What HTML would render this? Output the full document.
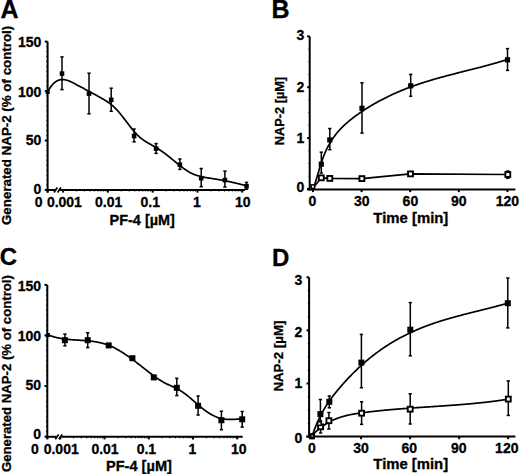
<!DOCTYPE html>
<html><head><meta charset="utf-8"><style>
html,body{margin:0;padding:0;background:#fff;width:520px;height:474px;overflow:hidden}
svg{display:block}
text{font-family:"Liberation Sans",sans-serif;font-weight:bold;fill:#000;stroke:#000;stroke-width:0.3px}
</style></head><body>
<svg width="520" height="474" viewBox="0 0 520 474" font-family="Liberation Sans" font-weight="bold">
<rect width="520" height="474" fill="#fff"/>
<line x1="47.60" y1="41.60" x2="47.60" y2="192.50" stroke="#000" stroke-width="2.0"/>
<line x1="44.80" y1="190.00" x2="47.60" y2="190.00" stroke="#000" stroke-width="2.0"/>
<line x1="44.80" y1="140.53" x2="47.60" y2="140.53" stroke="#000" stroke-width="2.0"/>
<line x1="44.80" y1="91.07" x2="47.60" y2="91.07" stroke="#000" stroke-width="2.0"/>
<line x1="44.80" y1="41.61" x2="47.60" y2="41.61" stroke="#000" stroke-width="2.0"/>
<line x1="46.30" y1="185.05" x2="47.60" y2="185.05" stroke="#000" stroke-width="1.0"/>
<line x1="46.30" y1="180.11" x2="47.60" y2="180.11" stroke="#000" stroke-width="1.0"/>
<line x1="46.30" y1="175.16" x2="47.60" y2="175.16" stroke="#000" stroke-width="1.0"/>
<line x1="46.30" y1="170.21" x2="47.60" y2="170.21" stroke="#000" stroke-width="1.0"/>
<line x1="46.30" y1="165.27" x2="47.60" y2="165.27" stroke="#000" stroke-width="1.0"/>
<line x1="46.30" y1="160.32" x2="47.60" y2="160.32" stroke="#000" stroke-width="1.0"/>
<line x1="46.30" y1="155.37" x2="47.60" y2="155.37" stroke="#000" stroke-width="1.0"/>
<line x1="46.30" y1="150.43" x2="47.60" y2="150.43" stroke="#000" stroke-width="1.0"/>
<line x1="46.30" y1="145.48" x2="47.60" y2="145.48" stroke="#000" stroke-width="1.0"/>
<line x1="46.30" y1="135.59" x2="47.60" y2="135.59" stroke="#000" stroke-width="1.0"/>
<line x1="46.30" y1="130.64" x2="47.60" y2="130.64" stroke="#000" stroke-width="1.0"/>
<line x1="46.30" y1="125.70" x2="47.60" y2="125.70" stroke="#000" stroke-width="1.0"/>
<line x1="46.30" y1="120.75" x2="47.60" y2="120.75" stroke="#000" stroke-width="1.0"/>
<line x1="46.30" y1="115.80" x2="47.60" y2="115.80" stroke="#000" stroke-width="1.0"/>
<line x1="46.30" y1="110.86" x2="47.60" y2="110.86" stroke="#000" stroke-width="1.0"/>
<line x1="46.30" y1="105.91" x2="47.60" y2="105.91" stroke="#000" stroke-width="1.0"/>
<line x1="46.30" y1="100.96" x2="47.60" y2="100.96" stroke="#000" stroke-width="1.0"/>
<line x1="46.30" y1="96.02" x2="47.60" y2="96.02" stroke="#000" stroke-width="1.0"/>
<line x1="46.30" y1="86.12" x2="47.60" y2="86.12" stroke="#000" stroke-width="1.0"/>
<line x1="46.30" y1="81.18" x2="47.60" y2="81.18" stroke="#000" stroke-width="1.0"/>
<line x1="46.30" y1="76.23" x2="47.60" y2="76.23" stroke="#000" stroke-width="1.0"/>
<line x1="46.30" y1="71.28" x2="47.60" y2="71.28" stroke="#000" stroke-width="1.0"/>
<line x1="46.30" y1="66.34" x2="47.60" y2="66.34" stroke="#000" stroke-width="1.0"/>
<line x1="46.30" y1="61.39" x2="47.60" y2="61.39" stroke="#000" stroke-width="1.0"/>
<line x1="46.30" y1="56.44" x2="47.60" y2="56.44" stroke="#000" stroke-width="1.0"/>
<line x1="46.30" y1="51.50" x2="47.60" y2="51.50" stroke="#000" stroke-width="1.0"/>
<line x1="46.30" y1="46.55" x2="47.60" y2="46.55" stroke="#000" stroke-width="1.0"/>
<line x1="47.60" y1="190.00" x2="55.00" y2="190.00" stroke="#000" stroke-width="2.0"/>
<line x1="60.00" y1="190.00" x2="245.00" y2="190.00" stroke="#000" stroke-width="2.0"/>
<line x1="54.00" y1="192.40" x2="57.30" y2="187.60" stroke="#000" stroke-width="1.8"/>
<line x1="57.60" y1="192.40" x2="60.90" y2="187.60" stroke="#000" stroke-width="1.8"/>
<line x1="63.10" y1="190.00" x2="63.10" y2="192.60" stroke="#000" stroke-width="2.0"/>
<line x1="76.59" y1="190.00" x2="76.59" y2="191.50" stroke="#000" stroke-width="1.0"/>
<line x1="84.48" y1="190.00" x2="84.48" y2="191.50" stroke="#000" stroke-width="1.0"/>
<line x1="90.07" y1="190.00" x2="90.07" y2="191.50" stroke="#000" stroke-width="1.0"/>
<line x1="94.41" y1="190.00" x2="94.41" y2="191.50" stroke="#000" stroke-width="1.0"/>
<line x1="97.96" y1="190.00" x2="97.96" y2="191.50" stroke="#000" stroke-width="1.0"/>
<line x1="100.96" y1="190.00" x2="100.96" y2="191.50" stroke="#000" stroke-width="1.0"/>
<line x1="103.56" y1="190.00" x2="103.56" y2="191.50" stroke="#000" stroke-width="1.0"/>
<line x1="105.85" y1="190.00" x2="105.85" y2="191.50" stroke="#000" stroke-width="1.0"/>
<line x1="107.90" y1="190.00" x2="107.90" y2="192.60" stroke="#000" stroke-width="2.0"/>
<line x1="121.39" y1="190.00" x2="121.39" y2="191.50" stroke="#000" stroke-width="1.0"/>
<line x1="129.28" y1="190.00" x2="129.28" y2="191.50" stroke="#000" stroke-width="1.0"/>
<line x1="134.87" y1="190.00" x2="134.87" y2="191.50" stroke="#000" stroke-width="1.0"/>
<line x1="139.21" y1="190.00" x2="139.21" y2="191.50" stroke="#000" stroke-width="1.0"/>
<line x1="142.76" y1="190.00" x2="142.76" y2="191.50" stroke="#000" stroke-width="1.0"/>
<line x1="145.76" y1="190.00" x2="145.76" y2="191.50" stroke="#000" stroke-width="1.0"/>
<line x1="148.36" y1="190.00" x2="148.36" y2="191.50" stroke="#000" stroke-width="1.0"/>
<line x1="150.65" y1="190.00" x2="150.65" y2="191.50" stroke="#000" stroke-width="1.0"/>
<line x1="152.70" y1="190.00" x2="152.70" y2="192.60" stroke="#000" stroke-width="2.0"/>
<line x1="166.19" y1="190.00" x2="166.19" y2="191.50" stroke="#000" stroke-width="1.0"/>
<line x1="174.08" y1="190.00" x2="174.08" y2="191.50" stroke="#000" stroke-width="1.0"/>
<line x1="179.67" y1="190.00" x2="179.67" y2="191.50" stroke="#000" stroke-width="1.0"/>
<line x1="184.01" y1="190.00" x2="184.01" y2="191.50" stroke="#000" stroke-width="1.0"/>
<line x1="187.56" y1="190.00" x2="187.56" y2="191.50" stroke="#000" stroke-width="1.0"/>
<line x1="190.56" y1="190.00" x2="190.56" y2="191.50" stroke="#000" stroke-width="1.0"/>
<line x1="193.16" y1="190.00" x2="193.16" y2="191.50" stroke="#000" stroke-width="1.0"/>
<line x1="195.45" y1="190.00" x2="195.45" y2="191.50" stroke="#000" stroke-width="1.0"/>
<line x1="197.50" y1="190.00" x2="197.50" y2="192.60" stroke="#000" stroke-width="2.0"/>
<line x1="210.99" y1="190.00" x2="210.99" y2="191.50" stroke="#000" stroke-width="1.0"/>
<line x1="218.88" y1="190.00" x2="218.88" y2="191.50" stroke="#000" stroke-width="1.0"/>
<line x1="224.47" y1="190.00" x2="224.47" y2="191.50" stroke="#000" stroke-width="1.0"/>
<line x1="228.81" y1="190.00" x2="228.81" y2="191.50" stroke="#000" stroke-width="1.0"/>
<line x1="232.36" y1="190.00" x2="232.36" y2="191.50" stroke="#000" stroke-width="1.0"/>
<line x1="235.36" y1="190.00" x2="235.36" y2="191.50" stroke="#000" stroke-width="1.0"/>
<line x1="237.96" y1="190.00" x2="237.96" y2="191.50" stroke="#000" stroke-width="1.0"/>
<line x1="240.25" y1="190.00" x2="240.25" y2="191.50" stroke="#000" stroke-width="1.0"/>
<line x1="242.30" y1="190.00" x2="242.30" y2="192.60" stroke="#000" stroke-width="2.0"/>
<line x1="47.60" y1="190.00" x2="47.60" y2="192.60" stroke="#000" stroke-width="2.0"/>
<text x="0.40" y="17.60" font-size="25" text-anchor="start" >A</text>
<text x="41.40" y="46.65" font-size="14" text-anchor="end" >150</text>
<text x="41.40" y="96.60" font-size="14" text-anchor="end" >100</text>
<text x="41.40" y="145.10" font-size="14" text-anchor="end" >50</text>
<text x="41.40" y="194.20" font-size="14" text-anchor="end" >0</text>
<text x="38.70" y="207.20" font-size="14" text-anchor="middle" >0</text>
<text x="64.40" y="207.20" font-size="14" text-anchor="middle" >0.001</text>
<text x="108.70" y="207.20" font-size="14" text-anchor="middle" >0.01</text>
<text x="150.20" y="207.20" font-size="14" text-anchor="middle" >0.1</text>
<text x="196.90" y="207.20" font-size="14" text-anchor="middle" >1</text>
<text x="242.70" y="207.20" font-size="14" text-anchor="middle" >10</text>
<text x="109.63" y="224.60" font-size="14" textLength="65.19" lengthAdjust="spacingAndGlyphs">PF-4 [µM]</text>
<text transform="translate(11.00,225.05) rotate(-90)" x="0" y="0" font-size="13.5" textLength="199.33" lengthAdjust="spacingAndGlyphs">Generated NAP-2 (% of control)</text>
<path d="M47.90,91.46 L48.40,90.55 L48.90,89.68 L49.40,88.86 L49.90,88.08 L50.40,87.34 L50.90,86.63 L51.40,85.97 L51.90,85.34 L52.40,84.75 L52.90,84.20 L53.40,83.68 L53.90,83.20 L54.40,82.75 L54.90,82.33 L55.40,81.95 L55.90,81.60 L56.40,81.27 L56.90,80.98 L57.40,80.72 L57.90,80.48 L58.40,80.28 L58.90,80.10 L59.40,79.94 L59.90,79.82 L60.40,79.71 L60.90,79.63 L61.40,79.57 L61.90,79.54 L62.40,79.52 L62.90,79.53 L63.40,79.56 L63.90,79.60 L64.40,79.67 L64.90,79.75 L65.40,79.85 L65.90,79.96 L66.40,80.09 L66.90,80.23 L67.40,80.39 L67.90,80.56 L68.40,80.74 L68.90,80.93 L69.40,81.14 L69.90,81.35 L70.40,81.57 L70.90,81.80 L71.40,82.04 L71.90,82.28 L72.40,82.53 L72.90,82.78 L73.40,83.04 L73.90,83.30 L74.40,83.57 L74.90,83.83 L75.40,84.10 L75.90,84.37 L76.40,84.64 L76.90,84.90 L77.40,85.17 L77.90,85.44 L78.40,85.70 L78.90,85.97 L79.40,86.23 L79.90,86.50 L80.40,86.77 L80.90,87.03 L81.40,87.30 L81.90,87.56 L82.40,87.83 L82.90,88.09 L83.40,88.36 L83.90,88.62 L84.40,88.89 L84.90,89.15 L85.40,89.42 L85.90,89.68 L86.40,89.95 L86.90,90.22 L87.40,90.48 L87.90,90.75 L88.40,91.02 L88.90,91.28 L89.40,91.55 L89.90,91.82 L90.40,92.09 L90.90,92.36 L91.40,92.62 L91.90,92.89 L92.40,93.16 L92.90,93.43 L93.40,93.71 L93.90,93.98 L94.40,94.25 L94.90,94.52 L95.40,94.80 L95.90,95.07 L96.40,95.35 L96.90,95.62 L97.40,95.90 L97.90,96.18 L98.40,96.46 L98.90,96.73 L99.40,97.01 L99.90,97.30 L100.40,97.58 L100.90,97.86 L101.40,98.14 L101.90,98.43 L102.40,98.72 L102.90,99.01 L103.40,99.30 L103.90,99.59 L104.40,99.89 L104.90,100.19 L105.40,100.50 L105.90,100.81 L106.40,101.13 L106.90,101.46 L107.40,101.79 L107.90,102.12 L108.40,102.47 L108.90,102.82 L109.40,103.18 L109.90,103.55 L110.40,103.93 L110.90,104.32 L111.40,104.71 L111.90,105.12 L112.40,105.54 L112.90,105.97 L113.40,106.42 L113.90,106.87 L114.40,107.34 L114.90,107.82 L115.40,108.32 L115.90,108.82 L116.40,109.35 L116.90,109.88 L117.40,110.43 L117.90,110.99 L118.40,111.56 L118.90,112.14 L119.40,112.73 L119.90,113.33 L120.40,113.94 L120.90,114.55 L121.40,115.17 L121.90,115.80 L122.40,116.44 L122.90,117.08 L123.40,117.72 L123.90,118.37 L124.40,119.02 L124.90,119.67 L125.40,120.33 L125.90,120.99 L126.40,121.65 L126.90,122.30 L127.40,122.96 L127.90,123.62 L128.40,124.27 L128.90,124.92 L129.40,125.57 L129.90,126.22 L130.40,126.85 L130.90,127.49 L131.40,128.12 L131.90,128.74 L132.40,129.36 L132.90,129.96 L133.40,130.56 L133.90,131.15 L134.40,131.74 L134.90,132.31 L135.40,132.87 L135.90,133.41 L136.40,133.95 L136.90,134.47 L137.40,134.98 L137.90,135.48 L138.40,135.96 L138.90,136.42 L139.40,136.87 L139.90,137.31 L140.40,137.74 L140.90,138.15 L141.40,138.55 L141.90,138.93 L142.40,139.31 L142.90,139.68 L143.40,140.03 L143.90,140.38 L144.40,140.72 L144.90,141.05 L145.40,141.37 L145.90,141.69 L146.40,142.00 L146.90,142.30 L147.40,142.60 L147.90,142.89 L148.40,143.18 L148.90,143.47 L149.40,143.75 L149.90,144.03 L150.40,144.31 L150.90,144.59 L151.40,144.87 L151.90,145.14 L152.40,145.42 L152.90,145.70 L153.40,145.98 L153.90,146.26 L154.40,146.55 L154.90,146.83 L155.40,147.12 L155.90,147.42 L156.40,147.72 L156.90,148.03 L157.40,148.34 L157.90,148.65 L158.40,148.97 L158.90,149.30 L159.40,149.63 L159.90,149.96 L160.40,150.30 L160.90,150.64 L161.40,150.99 L161.90,151.34 L162.40,151.69 L162.90,152.05 L163.40,152.41 L163.90,152.77 L164.40,153.14 L164.90,153.52 L165.40,153.89 L165.90,154.27 L166.40,154.65 L166.90,155.04 L167.40,155.43 L167.90,155.82 L168.40,156.22 L168.90,156.61 L169.40,157.01 L169.90,157.42 L170.40,157.82 L170.90,158.23 L171.40,158.64 L171.90,159.05 L172.40,159.46 L172.90,159.87 L173.40,160.28 L173.90,160.70 L174.40,161.11 L174.90,161.52 L175.40,161.93 L175.90,162.35 L176.40,162.76 L176.90,163.17 L177.40,163.57 L177.90,163.98 L178.40,164.38 L178.90,164.78 L179.40,165.18 L179.90,165.57 L180.40,165.97 L180.90,166.36 L181.40,166.74 L181.90,167.12 L182.40,167.50 L182.90,167.87 L183.40,168.24 L183.90,168.60 L184.40,168.95 L184.90,169.30 L185.40,169.65 L185.90,169.99 L186.40,170.32 L186.90,170.64 L187.40,170.96 L187.90,171.27 L188.40,171.58 L188.90,171.87 L189.40,172.16 L189.90,172.44 L190.40,172.71 L190.90,172.97 L191.40,173.23 L191.90,173.47 L192.40,173.70 L192.90,173.93 L193.40,174.15 L193.90,174.36 L194.40,174.56 L194.90,174.75 L195.40,174.94 L195.90,175.12 L196.40,175.29 L196.90,175.45 L197.40,175.61 L197.90,175.77 L198.40,175.91 L198.90,176.05 L199.40,176.19 L199.90,176.32 L200.40,176.45 L200.90,176.57 L201.40,176.68 L201.90,176.79 L202.40,176.90 L202.90,177.00 L203.40,177.10 L203.90,177.20 L204.40,177.30 L204.90,177.39 L205.40,177.47 L205.90,177.56 L206.40,177.64 L206.90,177.73 L207.40,177.81 L207.90,177.88 L208.40,177.96 L208.90,178.04 L209.40,178.12 L209.90,178.19 L210.40,178.27 L210.90,178.34 L211.40,178.42 L211.90,178.49 L212.40,178.57 L212.90,178.65 L213.40,178.73 L213.90,178.81 L214.40,178.89 L214.90,178.97 L215.40,179.05 L215.90,179.13 L216.40,179.21 L216.90,179.30 L217.40,179.38 L217.90,179.47 L218.40,179.56 L218.90,179.64 L219.40,179.73 L219.90,179.82 L220.40,179.91 L220.90,180.00 L221.40,180.09 L221.90,180.18 L222.40,180.28 L222.90,180.37 L223.40,180.47 L223.90,180.56 L224.40,180.66 L224.90,180.76 L225.40,180.86 L225.90,180.95 L226.40,181.05 L226.90,181.16 L227.40,181.26 L227.90,181.36 L228.40,181.46 L228.90,181.57 L229.40,181.67 L229.90,181.78 L230.40,181.89 L230.90,182.00 L231.40,182.10 L231.90,182.21 L232.40,182.32 L232.90,182.44 L233.40,182.55 L233.90,182.66 L234.40,182.78 L234.90,182.89 L235.40,183.01 L235.90,183.13 L236.40,183.25 L236.90,183.36 L237.40,183.49 L237.90,183.61 L238.40,183.73 L238.90,183.85 L239.40,183.98 L239.90,184.10 L240.40,184.23 L240.90,184.35 L241.40,184.48 L241.90,184.61 L242.40,184.74 L242.90,184.87 L243.40,185.00 L243.90,185.14 L244.40,185.27 L244.90,185.41 L245.40,185.54 L245.90,185.68 L246.40,185.82 L246.50,185.85" fill="none" stroke="#000" stroke-width="1.7" stroke-linejoin="round"/>
<line x1="62.00" y1="56.90" x2="62.00" y2="89.60" stroke="#000" stroke-width="1.5"/>
<line x1="60.35" y1="56.90" x2="63.65" y2="56.90" stroke="#000" stroke-width="1.5"/>
<line x1="60.35" y1="89.60" x2="63.65" y2="89.60" stroke="#000" stroke-width="1.5"/>
<rect x="59.70" y="71.30" width="4.60" height="4.60" fill="#000"/>
<line x1="89.00" y1="73.20" x2="89.00" y2="113.80" stroke="#000" stroke-width="1.5"/>
<line x1="87.35" y1="73.20" x2="90.65" y2="73.20" stroke="#000" stroke-width="1.5"/>
<line x1="87.35" y1="113.80" x2="90.65" y2="113.80" stroke="#000" stroke-width="1.5"/>
<rect x="86.70" y="91.30" width="4.60" height="4.60" fill="#000"/>
<line x1="111.20" y1="88.20" x2="111.20" y2="111.30" stroke="#000" stroke-width="1.5"/>
<line x1="109.55" y1="88.20" x2="112.85" y2="88.20" stroke="#000" stroke-width="1.5"/>
<line x1="109.55" y1="111.30" x2="112.85" y2="111.30" stroke="#000" stroke-width="1.5"/>
<rect x="108.90" y="97.50" width="4.60" height="4.60" fill="#000"/>
<line x1="134.10" y1="129.00" x2="134.10" y2="141.90" stroke="#000" stroke-width="1.5"/>
<line x1="132.45" y1="129.00" x2="135.75" y2="129.00" stroke="#000" stroke-width="1.5"/>
<line x1="132.45" y1="141.90" x2="135.75" y2="141.90" stroke="#000" stroke-width="1.5"/>
<rect x="131.80" y="133.70" width="4.60" height="4.60" fill="#000"/>
<line x1="156.10" y1="143.60" x2="156.10" y2="153.40" stroke="#000" stroke-width="1.5"/>
<line x1="154.45" y1="143.60" x2="157.75" y2="143.60" stroke="#000" stroke-width="1.5"/>
<line x1="154.45" y1="153.40" x2="157.75" y2="153.40" stroke="#000" stroke-width="1.5"/>
<rect x="153.80" y="146.30" width="4.60" height="4.60" fill="#000"/>
<line x1="179.90" y1="159.00" x2="179.90" y2="169.40" stroke="#000" stroke-width="1.5"/>
<line x1="178.25" y1="159.00" x2="181.55" y2="159.00" stroke="#000" stroke-width="1.5"/>
<line x1="178.25" y1="169.40" x2="181.55" y2="169.40" stroke="#000" stroke-width="1.5"/>
<rect x="177.60" y="162.40" width="4.60" height="4.60" fill="#000"/>
<line x1="201.20" y1="168.50" x2="201.20" y2="186.70" stroke="#000" stroke-width="1.5"/>
<line x1="199.55" y1="168.50" x2="202.85" y2="168.50" stroke="#000" stroke-width="1.5"/>
<line x1="199.55" y1="186.70" x2="202.85" y2="186.70" stroke="#000" stroke-width="1.5"/>
<rect x="198.90" y="175.90" width="4.60" height="4.60" fill="#000"/>
<line x1="224.90" y1="171.10" x2="224.90" y2="187.00" stroke="#000" stroke-width="1.5"/>
<line x1="223.25" y1="171.10" x2="226.55" y2="171.10" stroke="#000" stroke-width="1.5"/>
<line x1="223.25" y1="187.00" x2="226.55" y2="187.00" stroke="#000" stroke-width="1.5"/>
<rect x="222.60" y="177.80" width="4.60" height="4.60" fill="#000"/>
<line x1="246.50" y1="182.40" x2="246.50" y2="189.30" stroke="#000" stroke-width="1.5"/>
<line x1="244.85" y1="182.40" x2="248.15" y2="182.40" stroke="#000" stroke-width="1.5"/>
<line x1="244.85" y1="189.30" x2="248.15" y2="189.30" stroke="#000" stroke-width="1.5"/>
<rect x="244.20" y="183.90" width="4.60" height="4.60" fill="#000"/>
<rect x="45.70" y="90.00" width="4.00" height="4.00" fill="#000"/>
<line x1="47.30" y1="284.90" x2="47.30" y2="439.00" stroke="#000" stroke-width="2.0"/>
<line x1="44.50" y1="436.60" x2="47.30" y2="436.60" stroke="#000" stroke-width="2.0"/>
<line x1="44.50" y1="386.04" x2="47.30" y2="386.04" stroke="#000" stroke-width="2.0"/>
<line x1="44.50" y1="335.47" x2="47.30" y2="335.47" stroke="#000" stroke-width="2.0"/>
<line x1="44.50" y1="284.90" x2="47.30" y2="284.90" stroke="#000" stroke-width="2.0"/>
<line x1="46.00" y1="431.54" x2="47.30" y2="431.54" stroke="#000" stroke-width="1.0"/>
<line x1="46.00" y1="426.49" x2="47.30" y2="426.49" stroke="#000" stroke-width="1.0"/>
<line x1="46.00" y1="421.43" x2="47.30" y2="421.43" stroke="#000" stroke-width="1.0"/>
<line x1="46.00" y1="416.37" x2="47.30" y2="416.37" stroke="#000" stroke-width="1.0"/>
<line x1="46.00" y1="411.32" x2="47.30" y2="411.32" stroke="#000" stroke-width="1.0"/>
<line x1="46.00" y1="406.26" x2="47.30" y2="406.26" stroke="#000" stroke-width="1.0"/>
<line x1="46.00" y1="401.20" x2="47.30" y2="401.20" stroke="#000" stroke-width="1.0"/>
<line x1="46.00" y1="396.15" x2="47.30" y2="396.15" stroke="#000" stroke-width="1.0"/>
<line x1="46.00" y1="391.09" x2="47.30" y2="391.09" stroke="#000" stroke-width="1.0"/>
<line x1="46.00" y1="380.98" x2="47.30" y2="380.98" stroke="#000" stroke-width="1.0"/>
<line x1="46.00" y1="375.92" x2="47.30" y2="375.92" stroke="#000" stroke-width="1.0"/>
<line x1="46.00" y1="370.87" x2="47.30" y2="370.87" stroke="#000" stroke-width="1.0"/>
<line x1="46.00" y1="365.81" x2="47.30" y2="365.81" stroke="#000" stroke-width="1.0"/>
<line x1="46.00" y1="360.75" x2="47.30" y2="360.75" stroke="#000" stroke-width="1.0"/>
<line x1="46.00" y1="355.70" x2="47.30" y2="355.70" stroke="#000" stroke-width="1.0"/>
<line x1="46.00" y1="350.64" x2="47.30" y2="350.64" stroke="#000" stroke-width="1.0"/>
<line x1="46.00" y1="345.58" x2="47.30" y2="345.58" stroke="#000" stroke-width="1.0"/>
<line x1="46.00" y1="340.53" x2="47.30" y2="340.53" stroke="#000" stroke-width="1.0"/>
<line x1="46.00" y1="330.41" x2="47.30" y2="330.41" stroke="#000" stroke-width="1.0"/>
<line x1="46.00" y1="325.36" x2="47.30" y2="325.36" stroke="#000" stroke-width="1.0"/>
<line x1="46.00" y1="320.30" x2="47.30" y2="320.30" stroke="#000" stroke-width="1.0"/>
<line x1="46.00" y1="315.24" x2="47.30" y2="315.24" stroke="#000" stroke-width="1.0"/>
<line x1="46.00" y1="310.19" x2="47.30" y2="310.19" stroke="#000" stroke-width="1.0"/>
<line x1="46.00" y1="305.13" x2="47.30" y2="305.13" stroke="#000" stroke-width="1.0"/>
<line x1="46.00" y1="300.07" x2="47.30" y2="300.07" stroke="#000" stroke-width="1.0"/>
<line x1="46.00" y1="295.02" x2="47.30" y2="295.02" stroke="#000" stroke-width="1.0"/>
<line x1="46.00" y1="289.96" x2="47.30" y2="289.96" stroke="#000" stroke-width="1.0"/>
<line x1="47.30" y1="436.80" x2="56.00" y2="436.80" stroke="#000" stroke-width="2.0"/>
<line x1="61.50" y1="436.80" x2="242.70" y2="436.80" stroke="#000" stroke-width="2.0"/>
<line x1="55.30" y1="439.20" x2="58.60" y2="434.40" stroke="#000" stroke-width="1.8"/>
<line x1="58.90" y1="439.20" x2="62.20" y2="434.40" stroke="#000" stroke-width="1.8"/>
<line x1="60.28" y1="436.80" x2="60.28" y2="439.40" stroke="#000" stroke-width="2.0"/>
<line x1="73.60" y1="436.80" x2="73.60" y2="438.30" stroke="#000" stroke-width="1.0"/>
<line x1="81.39" y1="436.80" x2="81.39" y2="438.30" stroke="#000" stroke-width="1.0"/>
<line x1="86.92" y1="436.80" x2="86.92" y2="438.30" stroke="#000" stroke-width="1.0"/>
<line x1="91.20" y1="436.80" x2="91.20" y2="438.30" stroke="#000" stroke-width="1.0"/>
<line x1="94.71" y1="436.80" x2="94.71" y2="438.30" stroke="#000" stroke-width="1.0"/>
<line x1="97.67" y1="436.80" x2="97.67" y2="438.30" stroke="#000" stroke-width="1.0"/>
<line x1="100.23" y1="436.80" x2="100.23" y2="438.30" stroke="#000" stroke-width="1.0"/>
<line x1="102.50" y1="436.80" x2="102.50" y2="438.30" stroke="#000" stroke-width="1.0"/>
<line x1="104.52" y1="436.80" x2="104.52" y2="439.40" stroke="#000" stroke-width="2.0"/>
<line x1="117.84" y1="436.80" x2="117.84" y2="438.30" stroke="#000" stroke-width="1.0"/>
<line x1="125.63" y1="436.80" x2="125.63" y2="438.30" stroke="#000" stroke-width="1.0"/>
<line x1="131.16" y1="436.80" x2="131.16" y2="438.30" stroke="#000" stroke-width="1.0"/>
<line x1="135.44" y1="436.80" x2="135.44" y2="438.30" stroke="#000" stroke-width="1.0"/>
<line x1="138.95" y1="436.80" x2="138.95" y2="438.30" stroke="#000" stroke-width="1.0"/>
<line x1="141.91" y1="436.80" x2="141.91" y2="438.30" stroke="#000" stroke-width="1.0"/>
<line x1="144.47" y1="436.80" x2="144.47" y2="438.30" stroke="#000" stroke-width="1.0"/>
<line x1="146.74" y1="436.80" x2="146.74" y2="438.30" stroke="#000" stroke-width="1.0"/>
<line x1="148.76" y1="436.80" x2="148.76" y2="439.40" stroke="#000" stroke-width="2.0"/>
<line x1="162.08" y1="436.80" x2="162.08" y2="438.30" stroke="#000" stroke-width="1.0"/>
<line x1="169.87" y1="436.80" x2="169.87" y2="438.30" stroke="#000" stroke-width="1.0"/>
<line x1="175.40" y1="436.80" x2="175.40" y2="438.30" stroke="#000" stroke-width="1.0"/>
<line x1="179.68" y1="436.80" x2="179.68" y2="438.30" stroke="#000" stroke-width="1.0"/>
<line x1="183.19" y1="436.80" x2="183.19" y2="438.30" stroke="#000" stroke-width="1.0"/>
<line x1="186.15" y1="436.80" x2="186.15" y2="438.30" stroke="#000" stroke-width="1.0"/>
<line x1="188.71" y1="436.80" x2="188.71" y2="438.30" stroke="#000" stroke-width="1.0"/>
<line x1="190.98" y1="436.80" x2="190.98" y2="438.30" stroke="#000" stroke-width="1.0"/>
<line x1="193.00" y1="436.80" x2="193.00" y2="439.40" stroke="#000" stroke-width="2.0"/>
<line x1="206.32" y1="436.80" x2="206.32" y2="438.30" stroke="#000" stroke-width="1.0"/>
<line x1="214.11" y1="436.80" x2="214.11" y2="438.30" stroke="#000" stroke-width="1.0"/>
<line x1="219.64" y1="436.80" x2="219.64" y2="438.30" stroke="#000" stroke-width="1.0"/>
<line x1="223.92" y1="436.80" x2="223.92" y2="438.30" stroke="#000" stroke-width="1.0"/>
<line x1="227.43" y1="436.80" x2="227.43" y2="438.30" stroke="#000" stroke-width="1.0"/>
<line x1="230.39" y1="436.80" x2="230.39" y2="438.30" stroke="#000" stroke-width="1.0"/>
<line x1="232.95" y1="436.80" x2="232.95" y2="438.30" stroke="#000" stroke-width="1.0"/>
<line x1="235.22" y1="436.80" x2="235.22" y2="438.30" stroke="#000" stroke-width="1.0"/>
<line x1="237.24" y1="436.80" x2="237.24" y2="439.40" stroke="#000" stroke-width="2.0"/>
<line x1="47.30" y1="436.80" x2="47.30" y2="439.40" stroke="#000" stroke-width="2.0"/>
<text x="-0.20" y="265.40" font-size="24" text-anchor="start" >C</text>
<text x="41.00" y="291.40" font-size="14" text-anchor="end" >150</text>
<text x="41.00" y="341.40" font-size="14" text-anchor="end" >100</text>
<text x="41.00" y="390.30" font-size="14" text-anchor="end" >50</text>
<text x="41.00" y="439.40" font-size="14" text-anchor="end" >0</text>
<text x="34.90" y="453.60" font-size="14" text-anchor="middle" >0</text>
<text x="61.20" y="453.60" font-size="14" text-anchor="middle" >0.001</text>
<text x="105.00" y="453.60" font-size="14" text-anchor="middle" >0.01</text>
<text x="146.40" y="453.60" font-size="14" text-anchor="middle" >0.1</text>
<text x="192.40" y="453.60" font-size="14" text-anchor="middle" >1</text>
<text x="238.70" y="453.60" font-size="14" text-anchor="middle" >10</text>
<text x="105.92" y="470.50" font-size="14" textLength="66.01" lengthAdjust="spacingAndGlyphs">PF-4 [µM]</text>
<text transform="translate(10.60,472.04) rotate(-90)" x="0" y="0" font-size="13.5" textLength="196.91" lengthAdjust="spacingAndGlyphs">Generated NAP-2 (% of control)</text>
<path d="M48.30,334.97 L48.80,335.16 L49.30,335.35 L49.80,335.54 L50.30,335.72 L50.80,335.89 L51.30,336.06 L51.80,336.22 L52.30,336.38 L52.80,336.53 L53.30,336.68 L53.80,336.83 L54.30,336.97 L54.80,337.10 L55.30,337.23 L55.80,337.36 L56.30,337.48 L56.80,337.60 L57.30,337.72 L57.80,337.83 L58.30,337.94 L58.80,338.04 L59.30,338.14 L59.80,338.24 L60.30,338.33 L60.80,338.42 L61.30,338.50 L61.80,338.59 L62.30,338.67 L62.80,338.75 L63.30,338.82 L63.80,338.89 L64.30,338.96 L64.80,339.03 L65.30,339.09 L65.80,339.15 L66.30,339.21 L66.80,339.27 L67.30,339.32 L67.80,339.37 L68.30,339.42 L68.80,339.47 L69.30,339.52 L69.80,339.57 L70.30,339.61 L70.80,339.65 L71.30,339.69 L71.80,339.73 L72.30,339.77 L72.80,339.81 L73.30,339.84 L73.80,339.88 L74.30,339.91 L74.80,339.94 L75.30,339.98 L75.80,340.01 L76.30,340.04 L76.80,340.07 L77.30,340.10 L77.80,340.13 L78.30,340.16 L78.80,340.19 L79.30,340.22 L79.80,340.25 L80.30,340.29 L80.80,340.32 L81.30,340.35 L81.80,340.38 L82.30,340.41 L82.80,340.45 L83.30,340.48 L83.80,340.51 L84.30,340.55 L84.80,340.59 L85.30,340.62 L85.80,340.66 L86.30,340.70 L86.80,340.75 L87.30,340.79 L87.80,340.83 L88.30,340.88 L88.80,340.93 L89.30,340.98 L89.80,341.03 L90.30,341.09 L90.80,341.14 L91.30,341.20 L91.80,341.26 L92.30,341.32 L92.80,341.39 L93.30,341.46 L93.80,341.53 L94.30,341.60 L94.80,341.68 L95.30,341.76 L95.80,341.84 L96.30,341.93 L96.80,342.02 L97.30,342.11 L97.80,342.21 L98.30,342.30 L98.80,342.41 L99.30,342.51 L99.80,342.62 L100.30,342.74 L100.80,342.86 L101.30,342.98 L101.80,343.11 L102.30,343.24 L102.80,343.37 L103.30,343.51 L103.80,343.65 L104.30,343.80 L104.80,343.96 L105.30,344.11 L105.80,344.28 L106.30,344.44 L106.80,344.62 L107.30,344.79 L107.80,344.98 L108.30,345.17 L108.80,345.36 L109.30,345.56 L109.80,345.76 L110.30,345.97 L110.80,346.19 L111.30,346.41 L111.80,346.63 L112.30,346.86 L112.80,347.10 L113.30,347.34 L113.80,347.58 L114.30,347.83 L114.80,348.09 L115.30,348.35 L115.80,348.61 L116.30,348.88 L116.80,349.15 L117.30,349.42 L117.80,349.70 L118.30,349.99 L118.80,350.28 L119.30,350.57 L119.80,350.87 L120.30,351.17 L120.80,351.47 L121.30,351.78 L121.80,352.09 L122.30,352.40 L122.80,352.72 L123.30,353.04 L123.80,353.36 L124.30,353.69 L124.80,354.02 L125.30,354.36 L125.80,354.69 L126.30,355.03 L126.80,355.38 L127.30,355.72 L127.80,356.07 L128.30,356.42 L128.80,356.77 L129.30,357.13 L129.80,357.48 L130.30,357.84 L130.80,358.21 L131.30,358.57 L131.80,358.94 L132.30,359.31 L132.80,359.68 L133.30,360.05 L133.80,360.42 L134.30,360.80 L134.80,361.18 L135.30,361.56 L135.80,361.94 L136.30,362.32 L136.80,362.70 L137.30,363.08 L137.80,363.47 L138.30,363.86 L138.80,364.24 L139.30,364.63 L139.80,365.02 L140.30,365.41 L140.80,365.80 L141.30,366.20 L141.80,366.59 L142.30,366.98 L142.80,367.37 L143.30,367.77 L143.80,368.16 L144.30,368.56 L144.80,368.95 L145.30,369.34 L145.80,369.74 L146.30,370.13 L146.80,370.52 L147.30,370.92 L147.80,371.31 L148.30,371.70 L148.80,372.08 L149.30,372.47 L149.80,372.86 L150.30,373.24 L150.80,373.62 L151.30,374.00 L151.80,374.38 L152.30,374.76 L152.80,375.13 L153.30,375.50 L153.80,375.87 L154.30,376.23 L154.80,376.59 L155.30,376.95 L155.80,377.31 L156.30,377.66 L156.80,378.01 L157.30,378.35 L157.80,378.69 L158.30,379.02 L158.80,379.35 L159.30,379.68 L159.80,380.00 L160.30,380.32 L160.80,380.63 L161.30,380.94 L161.80,381.24 L162.30,381.53 L162.80,381.82 L163.30,382.11 L163.80,382.38 L164.30,382.66 L164.80,382.92 L165.30,383.18 L165.80,383.43 L166.30,383.68 L166.80,383.92 L167.30,384.16 L167.80,384.39 L168.30,384.62 L168.80,384.85 L169.30,385.08 L169.80,385.30 L170.30,385.52 L170.80,385.75 L171.30,385.97 L171.80,386.19 L172.30,386.42 L172.80,386.64 L173.30,386.87 L173.80,387.10 L174.30,387.34 L174.80,387.58 L175.30,387.82 L175.80,388.07 L176.30,388.32 L176.80,388.58 L177.30,388.85 L177.80,389.12 L178.30,389.41 L178.80,389.69 L179.30,389.99 L179.80,390.29 L180.30,390.60 L180.80,390.91 L181.30,391.23 L181.80,391.56 L182.30,391.89 L182.80,392.23 L183.30,392.58 L183.80,392.93 L184.30,393.29 L184.80,393.65 L185.30,394.03 L185.80,394.40 L186.30,394.79 L186.80,395.17 L187.30,395.57 L187.80,395.97 L188.30,396.38 L188.80,396.79 L189.30,397.21 L189.80,397.63 L190.30,398.05 L190.80,398.48 L191.30,398.91 L191.80,399.35 L192.30,399.78 L192.80,400.22 L193.30,400.66 L193.80,401.10 L194.30,401.54 L194.80,401.98 L195.30,402.42 L195.80,402.86 L196.30,403.30 L196.80,403.74 L197.30,404.17 L197.80,404.60 L198.30,405.03 L198.80,405.45 L199.30,405.88 L199.80,406.29 L200.30,406.71 L200.80,407.12 L201.30,407.52 L201.80,407.92 L202.30,408.32 L202.80,408.71 L203.30,409.10 L203.80,409.48 L204.30,409.86 L204.80,410.23 L205.30,410.59 L205.80,410.95 L206.30,411.31 L206.80,411.66 L207.30,412.00 L207.80,412.34 L208.30,412.67 L208.80,412.99 L209.30,413.31 L209.80,413.62 L210.30,413.92 L210.80,414.22 L211.30,414.51 L211.80,414.79 L212.30,415.07 L212.80,415.33 L213.30,415.59 L213.80,415.84 L214.30,416.08 L214.80,416.32 L215.30,416.54 L215.80,416.76 L216.30,416.97 L216.80,417.17 L217.30,417.36 L217.80,417.54 L218.30,417.71 L218.80,417.87 L219.30,418.03 L219.80,418.17 L220.30,418.30 L220.80,418.43 L221.30,418.55 L221.80,418.65 L222.30,418.75 L222.80,418.84 L223.30,418.93 L223.80,419.01 L224.30,419.07 L224.80,419.14 L225.30,419.19 L225.80,419.24 L226.30,419.29 L226.80,419.32 L227.30,419.35 L227.80,419.38 L228.30,419.40 L228.80,419.42 L229.30,419.43 L229.80,419.43 L230.30,419.44 L230.80,419.43 L231.30,419.43 L231.80,419.42 L232.30,419.41 L232.80,419.39 L233.30,419.37 L233.80,419.35 L234.30,419.33 L234.80,419.31 L235.30,419.28 L235.80,419.25 L236.30,419.22 L236.80,419.19 L237.30,419.16 L237.80,419.13 L238.30,419.10 L238.80,419.07 L239.30,419.04 L239.80,419.00 L240.30,418.97 L240.80,418.94 L241.30,418.92 L241.80,418.89 L242.20,418.87" fill="none" stroke="#000" stroke-width="1.7" stroke-linejoin="round"/>
<line x1="64.90" y1="334.10" x2="64.90" y2="345.80" stroke="#000" stroke-width="1.5"/>
<line x1="63.25" y1="334.10" x2="66.55" y2="334.10" stroke="#000" stroke-width="1.5"/>
<line x1="63.25" y1="345.80" x2="66.55" y2="345.80" stroke="#000" stroke-width="1.5"/>
<rect x="61.90" y="337.20" width="6.00" height="6.00" fill="#000"/>
<line x1="87.70" y1="332.80" x2="87.70" y2="347.60" stroke="#000" stroke-width="1.5"/>
<line x1="86.05" y1="332.80" x2="89.35" y2="332.80" stroke="#000" stroke-width="1.5"/>
<line x1="86.05" y1="347.60" x2="89.35" y2="347.60" stroke="#000" stroke-width="1.5"/>
<rect x="84.70" y="337.20" width="6.00" height="6.00" fill="#000"/>
<rect x="105.70" y="342.40" width="6.00" height="6.00" fill="#000"/>
<rect x="129.40" y="355.20" width="6.00" height="6.00" fill="#000"/>
<rect x="150.80" y="374.40" width="6.00" height="6.00" fill="#000"/>
<line x1="176.80" y1="378.30" x2="176.80" y2="395.60" stroke="#000" stroke-width="1.5"/>
<line x1="175.15" y1="378.30" x2="178.45" y2="378.30" stroke="#000" stroke-width="1.5"/>
<line x1="175.15" y1="395.60" x2="178.45" y2="395.60" stroke="#000" stroke-width="1.5"/>
<rect x="173.80" y="384.80" width="6.00" height="6.00" fill="#000"/>
<line x1="198.10" y1="396.00" x2="198.10" y2="415.00" stroke="#000" stroke-width="1.5"/>
<line x1="196.45" y1="396.00" x2="199.75" y2="396.00" stroke="#000" stroke-width="1.5"/>
<line x1="196.45" y1="415.00" x2="199.75" y2="415.00" stroke="#000" stroke-width="1.5"/>
<rect x="195.10" y="402.80" width="6.00" height="6.00" fill="#000"/>
<line x1="221.40" y1="411.20" x2="221.40" y2="429.70" stroke="#000" stroke-width="1.5"/>
<line x1="219.75" y1="411.20" x2="223.05" y2="411.20" stroke="#000" stroke-width="1.5"/>
<line x1="219.75" y1="429.70" x2="223.05" y2="429.70" stroke="#000" stroke-width="1.5"/>
<rect x="218.40" y="417.20" width="6.00" height="6.00" fill="#000"/>
<line x1="242.20" y1="411.50" x2="242.20" y2="427.10" stroke="#000" stroke-width="1.5"/>
<line x1="240.55" y1="411.50" x2="243.85" y2="411.50" stroke="#000" stroke-width="1.5"/>
<line x1="240.55" y1="427.10" x2="243.85" y2="427.10" stroke="#000" stroke-width="1.5"/>
<rect x="239.20" y="416.30" width="6.00" height="6.00" fill="#000"/>
<rect x="46.00" y="333.10" width="4.00" height="4.00" fill="#000"/>
<line x1="309.70" y1="36.40" x2="309.70" y2="190.50" stroke="#000" stroke-width="2.0"/>
<line x1="307.10" y1="188.90" x2="309.70" y2="188.90" stroke="#000" stroke-width="2.0"/>
<line x1="307.10" y1="138.05" x2="309.70" y2="138.05" stroke="#000" stroke-width="2.0"/>
<line x1="307.10" y1="87.20" x2="309.70" y2="87.20" stroke="#000" stroke-width="2.0"/>
<line x1="307.10" y1="36.35" x2="309.70" y2="36.35" stroke="#000" stroke-width="2.0"/>
<line x1="308.40" y1="176.19" x2="309.70" y2="176.19" stroke="#000" stroke-width="1.0"/>
<line x1="308.40" y1="163.47" x2="309.70" y2="163.47" stroke="#000" stroke-width="1.0"/>
<line x1="308.40" y1="150.76" x2="309.70" y2="150.76" stroke="#000" stroke-width="1.0"/>
<line x1="308.40" y1="125.34" x2="309.70" y2="125.34" stroke="#000" stroke-width="1.0"/>
<line x1="308.40" y1="112.62" x2="309.70" y2="112.62" stroke="#000" stroke-width="1.0"/>
<line x1="308.40" y1="99.91" x2="309.70" y2="99.91" stroke="#000" stroke-width="1.0"/>
<line x1="308.40" y1="74.49" x2="309.70" y2="74.49" stroke="#000" stroke-width="1.0"/>
<line x1="308.40" y1="61.78" x2="309.70" y2="61.78" stroke="#000" stroke-width="1.0"/>
<line x1="308.40" y1="49.06" x2="309.70" y2="49.06" stroke="#000" stroke-width="1.0"/>
<line x1="307.20" y1="189.50" x2="515.40" y2="189.50" stroke="#000" stroke-width="2.0"/>
<line x1="312.96" y1="189.50" x2="312.96" y2="192.10" stroke="#000" stroke-width="2.0"/>
<line x1="361.58" y1="189.50" x2="361.58" y2="192.10" stroke="#000" stroke-width="2.0"/>
<line x1="410.20" y1="189.50" x2="410.20" y2="192.10" stroke="#000" stroke-width="2.0"/>
<line x1="458.82" y1="189.50" x2="458.82" y2="192.10" stroke="#000" stroke-width="2.0"/>
<line x1="507.44" y1="189.50" x2="507.44" y2="192.10" stroke="#000" stroke-width="2.0"/>
<text x="271.40" y="17.60" font-size="25" text-anchor="start" >B</text>
<text x="304.40" y="40.30" font-size="14" text-anchor="end" >3</text>
<text x="304.40" y="92.30" font-size="14" text-anchor="end" >2</text>
<text x="304.40" y="143.10" font-size="14" text-anchor="end" >1</text>
<text x="304.40" y="192.40" font-size="14" text-anchor="end" >0</text>
<text x="312.40" y="205.60" font-size="14" text-anchor="middle" >0</text>
<text x="361.80" y="205.60" font-size="14" text-anchor="middle" >30</text>
<text x="410.40" y="205.60" font-size="14" text-anchor="middle" >60</text>
<text x="458.80" y="205.60" font-size="14" text-anchor="middle" >90</text>
<text x="507.40" y="205.60" font-size="14" text-anchor="middle" >120</text>
<text x="373.34" y="222.60" font-size="14" textLength="75.01" lengthAdjust="spacingAndGlyphs">Time [min]</text>
<text transform="translate(284.40,145.15) rotate(-90)" x="0" y="0" font-size="13.5" textLength="68.28" lengthAdjust="spacingAndGlyphs">NAP-2 [µM]</text>
<path d="M313.30,187.94 L313.80,186.72 L314.30,185.40 L314.80,183.99 L315.30,182.51 L315.80,180.97 L316.30,179.37 L316.80,177.73 L317.30,176.06 L317.80,174.36 L318.30,172.65 L318.80,170.94 L319.30,169.23 L319.80,167.55 L320.30,165.89 L320.80,164.28 L321.30,162.71 L321.80,161.20 L322.30,159.75 L322.80,158.36 L323.30,157.01 L323.80,155.72 L324.30,154.48 L324.80,153.28 L325.30,152.13 L325.80,151.02 L326.30,149.95 L326.80,148.91 L327.30,147.91 L327.80,146.94 L328.30,146.00 L328.80,145.09 L329.30,144.21 L329.80,143.34 L330.30,142.50 L330.80,141.68 L331.30,140.87 L331.80,140.09 L332.30,139.32 L332.80,138.57 L333.30,137.84 L333.80,137.12 L334.30,136.43 L334.80,135.74 L335.30,135.08 L335.80,134.43 L336.30,133.79 L336.80,133.17 L337.30,132.56 L337.80,131.96 L338.30,131.38 L338.80,130.81 L339.30,130.25 L339.80,129.70 L340.30,129.17 L340.80,128.64 L341.30,128.12 L341.80,127.62 L342.30,127.12 L342.80,126.63 L343.30,126.15 L343.80,125.67 L344.30,125.20 L344.80,124.74 L345.30,124.29 L345.80,123.84 L346.30,123.39 L346.80,122.96 L347.30,122.52 L347.80,122.09 L348.30,121.67 L348.80,121.25 L349.30,120.83 L349.80,120.42 L350.30,120.01 L350.80,119.61 L351.30,119.21 L351.80,118.81 L352.30,118.42 L352.80,118.03 L353.30,117.65 L353.80,117.27 L354.30,116.89 L354.80,116.52 L355.30,116.14 L355.80,115.78 L356.30,115.41 L356.80,115.05 L357.30,114.69 L357.80,114.34 L358.30,113.99 L358.80,113.64 L359.30,113.29 L359.80,112.94 L360.30,112.60 L360.80,112.26 L361.30,111.92 L361.80,111.59 L362.30,111.25 L362.80,110.92 L363.30,110.59 L363.80,110.26 L364.30,109.93 L364.80,109.61 L365.30,109.29 L365.80,108.97 L366.30,108.65 L366.80,108.33 L367.30,108.02 L367.80,107.71 L368.30,107.40 L368.80,107.09 L369.30,106.78 L369.80,106.47 L370.30,106.17 L370.80,105.87 L371.30,105.57 L371.80,105.27 L372.30,104.98 L372.80,104.68 L373.30,104.39 L373.80,104.10 L374.30,103.81 L374.80,103.52 L375.30,103.24 L375.80,102.96 L376.30,102.67 L376.80,102.39 L377.30,102.12 L377.80,101.84 L378.30,101.57 L378.80,101.29 L379.30,101.02 L379.80,100.75 L380.30,100.48 L380.80,100.22 L381.30,99.95 L381.80,99.69 L382.30,99.43 L382.80,99.17 L383.30,98.91 L383.80,98.65 L384.30,98.40 L384.80,98.14 L385.30,97.89 L385.80,97.64 L386.30,97.39 L386.80,97.15 L387.30,96.90 L387.80,96.66 L388.30,96.41 L388.80,96.17 L389.30,95.93 L389.80,95.69 L390.30,95.46 L390.80,95.22 L391.30,94.99 L391.80,94.76 L392.30,94.52 L392.80,94.30 L393.30,94.07 L393.80,93.84 L394.30,93.62 L394.80,93.39 L395.30,93.17 L395.80,92.95 L396.30,92.73 L396.80,92.51 L397.30,92.29 L397.80,92.08 L398.30,91.86 L398.80,91.65 L399.30,91.44 L399.80,91.23 L400.30,91.02 L400.80,90.81 L401.30,90.60 L401.80,90.40 L402.30,90.19 L402.80,89.99 L403.30,89.79 L403.80,89.59 L404.30,89.39 L404.80,89.19 L405.30,88.99 L405.80,88.79 L406.30,88.60 L406.80,88.41 L407.30,88.21 L407.80,88.02 L408.30,87.83 L408.80,87.64 L409.30,87.46 L409.80,87.27 L410.30,87.08 L410.80,86.90 L411.30,86.71 L411.80,86.53 L412.30,86.35 L412.80,86.17 L413.30,85.99 L413.80,85.81 L414.30,85.63 L414.80,85.46 L415.30,85.28 L415.80,85.11 L416.30,84.93 L416.80,84.76 L417.30,84.59 L417.80,84.42 L418.30,84.25 L418.80,84.08 L419.30,83.91 L419.80,83.74 L420.30,83.58 L420.80,83.41 L421.30,83.25 L421.80,83.08 L422.30,82.92 L422.80,82.76 L423.30,82.60 L423.80,82.44 L424.30,82.28 L424.80,82.12 L425.30,81.96 L425.80,81.81 L426.30,81.65 L426.80,81.49 L427.30,81.34 L427.80,81.19 L428.30,81.03 L428.80,80.88 L429.30,80.73 L429.80,80.58 L430.30,80.43 L430.80,80.28 L431.30,80.13 L431.80,79.98 L432.30,79.83 L432.80,79.68 L433.30,79.54 L433.80,79.39 L434.30,79.25 L434.80,79.10 L435.30,78.96 L435.80,78.81 L436.30,78.67 L436.80,78.53 L437.30,78.39 L437.80,78.25 L438.30,78.10 L438.80,77.96 L439.30,77.82 L439.80,77.69 L440.30,77.55 L440.80,77.41 L441.30,77.27 L441.80,77.13 L442.30,77.00 L442.80,76.86 L443.30,76.73 L443.80,76.59 L444.30,76.46 L444.80,76.32 L445.30,76.19 L445.80,76.05 L446.30,75.92 L446.80,75.79 L447.30,75.65 L447.80,75.52 L448.30,75.39 L448.80,75.26 L449.30,75.13 L449.80,75.00 L450.30,74.87 L450.80,74.73 L451.30,74.60 L451.80,74.47 L452.30,74.35 L452.80,74.22 L453.30,74.09 L453.80,73.96 L454.30,73.83 L454.80,73.70 L455.30,73.57 L455.80,73.45 L456.30,73.32 L456.80,73.19 L457.30,73.06 L457.80,72.94 L458.30,72.81 L458.80,72.68 L459.30,72.55 L459.80,72.43 L460.30,72.30 L460.80,72.18 L461.30,72.05 L461.80,71.92 L462.30,71.80 L462.80,71.67 L463.30,71.54 L463.80,71.42 L464.30,71.29 L464.80,71.17 L465.30,71.04 L465.80,70.91 L466.30,70.79 L466.80,70.66 L467.30,70.54 L467.80,70.41 L468.30,70.28 L468.80,70.16 L469.30,70.03 L469.80,69.91 L470.30,69.78 L470.80,69.65 L471.30,69.53 L471.80,69.40 L472.30,69.27 L472.80,69.15 L473.30,69.02 L473.80,68.89 L474.30,68.76 L474.80,68.64 L475.30,68.51 L475.80,68.38 L476.30,68.25 L476.80,68.12 L477.30,68.00 L477.80,67.87 L478.30,67.74 L478.80,67.61 L479.30,67.48 L479.80,67.35 L480.30,67.22 L480.80,67.09 L481.30,66.96 L481.80,66.83 L482.30,66.70 L482.80,66.57 L483.30,66.43 L483.80,66.30 L484.30,66.17 L484.80,66.04 L485.30,65.90 L485.80,65.77 L486.30,65.63 L486.80,65.50 L487.30,65.37 L487.80,65.23 L488.30,65.09 L488.80,64.96 L489.30,64.82 L489.80,64.68 L490.30,64.55 L490.80,64.41 L491.30,64.27 L491.80,64.13 L492.30,63.99 L492.80,63.85 L493.30,63.71 L493.80,63.57 L494.30,63.43 L494.80,63.29 L495.30,63.14 L495.80,63.00 L496.30,62.86 L496.80,62.71 L497.30,62.57 L497.80,62.42 L498.30,62.27 L498.80,62.13 L499.30,61.98 L499.80,61.83 L500.30,61.68 L500.80,61.53 L501.30,61.38 L501.80,61.23 L502.30,61.08 L502.80,60.93 L503.30,60.77 L503.80,60.62 L504.30,60.46 L504.80,60.31 L505.30,60.15 L505.80,60.00 L506.30,59.84 L506.80,59.68 L507.30,59.52 L507.50,59.46" fill="none" stroke="#000" stroke-width="1.7" stroke-linejoin="round"/>
<path d="M313.30,187.70 L321.30,177.80 L329.80,178.40 L361.90,178.60 L410.50,173.90 L507.80,174.50" fill="none" stroke="#000" stroke-width="1.7" stroke-linejoin="round"/>
<line x1="321.30" y1="152.20" x2="321.30" y2="173.00" stroke="#000" stroke-width="1.5"/>
<line x1="319.65" y1="152.20" x2="322.95" y2="152.20" stroke="#000" stroke-width="1.5"/>
<line x1="319.65" y1="173.00" x2="322.95" y2="173.00" stroke="#000" stroke-width="1.5"/>
<rect x="318.70" y="161.60" width="5.20" height="5.20" fill="#000"/>
<line x1="329.80" y1="128.50" x2="329.80" y2="149.70" stroke="#000" stroke-width="1.5"/>
<line x1="328.15" y1="128.50" x2="331.45" y2="128.50" stroke="#000" stroke-width="1.5"/>
<line x1="328.15" y1="149.70" x2="331.45" y2="149.70" stroke="#000" stroke-width="1.5"/>
<rect x="327.20" y="137.30" width="5.20" height="5.20" fill="#000"/>
<line x1="362.00" y1="82.80" x2="362.00" y2="133.10" stroke="#000" stroke-width="1.5"/>
<line x1="360.35" y1="82.80" x2="363.65" y2="82.80" stroke="#000" stroke-width="1.5"/>
<line x1="360.35" y1="133.10" x2="363.65" y2="133.10" stroke="#000" stroke-width="1.5"/>
<rect x="359.40" y="105.70" width="5.20" height="5.20" fill="#000"/>
<line x1="410.70" y1="74.40" x2="410.70" y2="96.30" stroke="#000" stroke-width="1.5"/>
<line x1="409.05" y1="74.40" x2="412.35" y2="74.40" stroke="#000" stroke-width="1.5"/>
<line x1="409.05" y1="96.30" x2="412.35" y2="96.30" stroke="#000" stroke-width="1.5"/>
<rect x="408.10" y="83.20" width="5.20" height="5.20" fill="#000"/>
<line x1="507.50" y1="48.60" x2="507.50" y2="70.40" stroke="#000" stroke-width="1.5"/>
<line x1="505.85" y1="48.60" x2="509.15" y2="48.60" stroke="#000" stroke-width="1.5"/>
<line x1="505.85" y1="70.40" x2="509.15" y2="70.40" stroke="#000" stroke-width="1.5"/>
<rect x="504.90" y="57.20" width="5.20" height="5.20" fill="#000"/>
<line x1="507.80" y1="171.00" x2="507.80" y2="178.30" stroke="#000" stroke-width="1.5"/>
<line x1="506.15" y1="171.00" x2="509.45" y2="171.00" stroke="#000" stroke-width="1.5"/>
<line x1="506.15" y1="178.30" x2="509.45" y2="178.30" stroke="#000" stroke-width="1.5"/>
<rect x="311.15" y="184.85" width="3.50" height="3.50" fill="#fff" stroke="#000" stroke-width="1.5"/>
<rect x="318.85" y="175.35" width="4.90" height="4.90" fill="#fff" stroke="#000" stroke-width="1.9"/>
<rect x="327.35" y="175.95" width="4.90" height="4.90" fill="#fff" stroke="#000" stroke-width="1.9"/>
<rect x="359.45" y="176.15" width="4.90" height="4.90" fill="#fff" stroke="#000" stroke-width="1.9"/>
<rect x="408.05" y="171.45" width="4.90" height="4.90" fill="#fff" stroke="#000" stroke-width="1.9"/>
<rect x="505.35" y="172.05" width="4.90" height="4.90" fill="#fff" stroke="#000" stroke-width="1.9"/>
<line x1="309.10" y1="277.50" x2="309.10" y2="437.60" stroke="#000" stroke-width="2.0"/>
<line x1="306.50" y1="436.60" x2="309.10" y2="436.60" stroke="#000" stroke-width="2.0"/>
<line x1="306.50" y1="383.50" x2="309.10" y2="383.50" stroke="#000" stroke-width="2.0"/>
<line x1="306.50" y1="330.40" x2="309.10" y2="330.40" stroke="#000" stroke-width="2.0"/>
<line x1="306.50" y1="277.30" x2="309.10" y2="277.30" stroke="#000" stroke-width="2.0"/>
<line x1="307.80" y1="423.33" x2="309.10" y2="423.33" stroke="#000" stroke-width="1.0"/>
<line x1="307.80" y1="410.05" x2="309.10" y2="410.05" stroke="#000" stroke-width="1.0"/>
<line x1="307.80" y1="396.78" x2="309.10" y2="396.78" stroke="#000" stroke-width="1.0"/>
<line x1="307.80" y1="370.23" x2="309.10" y2="370.23" stroke="#000" stroke-width="1.0"/>
<line x1="307.80" y1="356.95" x2="309.10" y2="356.95" stroke="#000" stroke-width="1.0"/>
<line x1="307.80" y1="343.68" x2="309.10" y2="343.68" stroke="#000" stroke-width="1.0"/>
<line x1="307.80" y1="317.12" x2="309.10" y2="317.12" stroke="#000" stroke-width="1.0"/>
<line x1="307.80" y1="303.85" x2="309.10" y2="303.85" stroke="#000" stroke-width="1.0"/>
<line x1="307.80" y1="290.58" x2="309.10" y2="290.58" stroke="#000" stroke-width="1.0"/>
<line x1="306.40" y1="436.60" x2="515.40" y2="436.60" stroke="#000" stroke-width="2.0"/>
<line x1="312.00" y1="436.60" x2="312.00" y2="439.20" stroke="#000" stroke-width="2.0"/>
<line x1="361.05" y1="436.60" x2="361.05" y2="439.20" stroke="#000" stroke-width="2.0"/>
<line x1="410.10" y1="436.60" x2="410.10" y2="439.20" stroke="#000" stroke-width="2.0"/>
<line x1="459.15" y1="436.60" x2="459.15" y2="439.20" stroke="#000" stroke-width="2.0"/>
<line x1="508.20" y1="436.60" x2="508.20" y2="439.20" stroke="#000" stroke-width="2.0"/>
<text x="272.00" y="266.00" font-size="24" text-anchor="start" >D</text>
<text x="302.40" y="284.65" font-size="14" text-anchor="end" >3</text>
<text x="302.40" y="336.50" font-size="14" text-anchor="end" >2</text>
<text x="302.40" y="388.40" font-size="14" text-anchor="end" >1</text>
<text x="302.40" y="443.20" font-size="14" text-anchor="end" >0</text>
<text x="311.80" y="453.20" font-size="14" text-anchor="middle" >0</text>
<text x="361.00" y="453.20" font-size="14" text-anchor="middle" >30</text>
<text x="409.20" y="453.20" font-size="14" text-anchor="middle" >60</text>
<text x="458.80" y="453.20" font-size="14" text-anchor="middle" >90</text>
<text x="506.80" y="453.20" font-size="14" text-anchor="middle" >120</text>
<text x="373.34" y="468.80" font-size="14" textLength="74.80" lengthAdjust="spacingAndGlyphs">Time [min]</text>
<text transform="translate(283.40,391.49) rotate(-90)" x="0" y="0" font-size="13.5" textLength="70.83" lengthAdjust="spacingAndGlyphs">NAP-2 [µM]</text>
<path d="M311.80,436.66 L312.30,435.25 L312.80,433.87 L313.30,432.51 L313.80,431.18 L314.30,429.88 L314.80,428.61 L315.30,427.36 L315.80,426.14 L316.30,424.94 L316.80,423.77 L317.30,422.62 L317.80,421.50 L318.30,420.40 L318.80,419.32 L319.30,418.27 L319.80,417.23 L320.30,416.22 L320.80,415.23 L321.30,414.26 L321.80,413.31 L322.30,412.38 L322.80,411.46 L323.30,410.57 L323.80,409.69 L324.30,408.82 L324.80,407.98 L325.30,407.15 L325.80,406.34 L326.30,405.54 L326.80,404.75 L327.30,403.98 L327.80,403.22 L328.30,402.48 L328.80,401.74 L329.30,401.02 L329.80,400.31 L330.30,399.61 L330.80,398.92 L331.30,398.24 L331.80,397.57 L332.30,396.91 L332.80,396.25 L333.30,395.61 L333.80,394.97 L334.30,394.33 L334.80,393.71 L335.30,393.08 L335.80,392.46 L336.30,391.85 L336.80,391.24 L337.30,390.63 L337.80,390.03 L338.30,389.43 L338.80,388.84 L339.30,388.24 L339.80,387.66 L340.30,387.07 L340.80,386.49 L341.30,385.91 L341.80,385.33 L342.30,384.76 L342.80,384.19 L343.30,383.63 L343.80,383.07 L344.30,382.51 L344.80,381.95 L345.30,381.40 L345.80,380.85 L346.30,380.31 L346.80,379.77 L347.30,379.23 L347.80,378.69 L348.30,378.16 L348.80,377.63 L349.30,377.10 L349.80,376.58 L350.30,376.06 L350.80,375.54 L351.30,375.03 L351.80,374.52 L352.30,374.01 L352.80,373.51 L353.30,373.01 L353.80,372.51 L354.30,372.02 L354.80,371.52 L355.30,371.04 L355.80,370.55 L356.30,370.07 L356.80,369.59 L357.30,369.11 L357.80,368.64 L358.30,368.17 L358.80,367.70 L359.30,367.23 L359.80,366.77 L360.30,366.31 L360.80,365.85 L361.30,365.40 L361.80,364.95 L362.30,364.50 L362.80,364.06 L363.30,363.61 L363.80,363.17 L364.30,362.74 L364.80,362.30 L365.30,361.87 L365.80,361.44 L366.30,361.02 L366.80,360.59 L367.30,360.17 L367.80,359.76 L368.30,359.34 L368.80,358.93 L369.30,358.52 L369.80,358.11 L370.30,357.71 L370.80,357.31 L371.30,356.91 L371.80,356.51 L372.30,356.11 L372.80,355.72 L373.30,355.33 L373.80,354.95 L374.30,354.56 L374.80,354.18 L375.30,353.80 L375.80,353.43 L376.30,353.05 L376.80,352.68 L377.30,352.31 L377.80,351.94 L378.30,351.58 L378.80,351.22 L379.30,350.86 L379.80,350.50 L380.30,350.14 L380.80,349.79 L381.30,349.44 L381.80,349.09 L382.30,348.75 L382.80,348.41 L383.30,348.06 L383.80,347.73 L384.30,347.39 L384.80,347.05 L385.30,346.72 L385.80,346.39 L386.30,346.07 L386.80,345.74 L387.30,345.42 L387.80,345.10 L388.30,344.78 L388.80,344.46 L389.30,344.15 L389.80,343.83 L390.30,343.52 L390.80,343.22 L391.30,342.91 L391.80,342.61 L392.30,342.31 L392.80,342.01 L393.30,341.71 L393.80,341.41 L394.30,341.12 L394.80,340.83 L395.30,340.54 L395.80,340.25 L396.30,339.96 L396.80,339.68 L397.30,339.40 L397.80,339.12 L398.30,338.84 L398.80,338.57 L399.30,338.29 L399.80,338.02 L400.30,337.75 L400.80,337.48 L401.30,337.22 L401.80,336.95 L402.30,336.69 L402.80,336.43 L403.30,336.17 L403.80,335.91 L404.30,335.66 L404.80,335.40 L405.30,335.15 L405.80,334.90 L406.30,334.65 L406.80,334.41 L407.30,334.16 L407.80,333.92 L408.30,333.68 L408.80,333.44 L409.30,333.20 L409.80,332.96 L410.30,332.73 L410.80,332.49 L411.30,332.26 L411.80,332.03 L412.30,331.80 L412.80,331.58 L413.30,331.35 L413.80,331.13 L414.30,330.90 L414.80,330.68 L415.30,330.46 L415.80,330.25 L416.30,330.03 L416.80,329.82 L417.30,329.60 L417.80,329.39 L418.30,329.18 L418.80,328.97 L419.30,328.76 L419.80,328.56 L420.30,328.35 L420.80,328.15 L421.30,327.95 L421.80,327.75 L422.30,327.55 L422.80,327.35 L423.30,327.15 L423.80,326.96 L424.30,326.76 L424.80,326.57 L425.30,326.38 L425.80,326.19 L426.30,326.00 L426.80,325.81 L427.30,325.63 L427.80,325.44 L428.30,325.26 L428.80,325.08 L429.30,324.90 L429.80,324.72 L430.30,324.54 L430.80,324.36 L431.30,324.18 L431.80,324.01 L432.30,323.83 L432.80,323.66 L433.30,323.48 L433.80,323.31 L434.30,323.14 L434.80,322.97 L435.30,322.81 L435.80,322.64 L436.30,322.47 L436.80,322.31 L437.30,322.14 L437.80,321.98 L438.30,321.82 L438.80,321.66 L439.30,321.50 L439.80,321.34 L440.30,321.18 L440.80,321.02 L441.30,320.86 L441.80,320.71 L442.30,320.55 L442.80,320.40 L443.30,320.25 L443.80,320.09 L444.30,319.94 L444.80,319.79 L445.30,319.64 L445.80,319.49 L446.30,319.34 L446.80,319.20 L447.30,319.05 L447.80,318.90 L448.30,318.76 L448.80,318.61 L449.30,318.47 L449.80,318.32 L450.30,318.18 L450.80,318.04 L451.30,317.90 L451.80,317.76 L452.30,317.62 L452.80,317.48 L453.30,317.34 L453.80,317.20 L454.30,317.06 L454.80,316.93 L455.30,316.79 L455.80,316.65 L456.30,316.52 L456.80,316.38 L457.30,316.25 L457.80,316.11 L458.30,315.98 L458.80,315.85 L459.30,315.72 L459.80,315.58 L460.30,315.45 L460.80,315.32 L461.30,315.19 L461.80,315.06 L462.30,314.93 L462.80,314.80 L463.30,314.67 L463.80,314.54 L464.30,314.41 L464.80,314.28 L465.30,314.16 L465.80,314.03 L466.30,313.90 L466.80,313.77 L467.30,313.65 L467.80,313.52 L468.30,313.39 L468.80,313.27 L469.30,313.14 L469.80,313.02 L470.30,312.89 L470.80,312.76 L471.30,312.64 L471.80,312.51 L472.30,312.39 L472.80,312.27 L473.30,312.14 L473.80,312.02 L474.30,311.89 L474.80,311.77 L475.30,311.64 L475.80,311.52 L476.30,311.39 L476.80,311.27 L477.30,311.15 L477.80,311.02 L478.30,310.90 L478.80,310.77 L479.30,310.65 L479.80,310.53 L480.30,310.40 L480.80,310.28 L481.30,310.15 L481.80,310.03 L482.30,309.90 L482.80,309.78 L483.30,309.65 L483.80,309.53 L484.30,309.40 L484.80,309.28 L485.30,309.15 L485.80,309.03 L486.30,308.90 L486.80,308.78 L487.30,308.65 L487.80,308.52 L488.30,308.40 L488.80,308.27 L489.30,308.14 L489.80,308.01 L490.30,307.89 L490.80,307.76 L491.30,307.63 L491.80,307.50 L492.30,307.37 L492.80,307.24 L493.30,307.11 L493.80,306.98 L494.30,306.85 L494.80,306.72 L495.30,306.59 L495.80,306.46 L496.30,306.33 L496.80,306.19 L497.30,306.06 L497.80,305.93 L498.30,305.79 L498.80,305.66 L499.30,305.52 L499.80,305.39 L500.30,305.25 L500.80,305.11 L501.30,304.98 L501.80,304.84 L502.30,304.70 L502.80,304.56 L503.30,304.42 L503.80,304.28 L504.30,304.14 L504.80,304.00 L505.30,303.86 L505.80,303.71 L506.30,303.57 L506.80,303.43 L507.30,303.28 L507.80,303.14" fill="none" stroke="#000" stroke-width="1.7" stroke-linejoin="round"/>
<path d="M311.80,435.65 L312.30,435.13 L312.80,434.62 L313.30,434.12 L313.80,433.62 L314.30,433.13 L314.80,432.66 L315.30,432.19 L315.80,431.72 L316.30,431.27 L316.80,430.82 L317.30,430.38 L317.80,429.95 L318.30,429.53 L318.80,429.11 L319.30,428.71 L319.80,428.31 L320.30,427.91 L320.80,427.53 L321.30,427.15 L321.80,426.78 L322.30,426.41 L322.80,426.05 L323.30,425.70 L323.80,425.36 L324.30,425.02 L324.80,424.69 L325.30,424.37 L325.80,424.05 L326.30,423.74 L326.80,423.43 L327.30,423.13 L327.80,422.84 L328.30,422.56 L328.80,422.27 L329.30,422.00 L329.80,421.73 L330.30,421.47 L330.80,421.21 L331.30,420.96 L331.80,420.71 L332.30,420.47 L332.80,420.23 L333.30,420.00 L333.80,419.78 L334.30,419.56 L334.80,419.34 L335.30,419.13 L335.80,418.93 L336.30,418.72 L336.80,418.53 L337.30,418.34 L337.80,418.15 L338.30,417.97 L338.80,417.79 L339.30,417.61 L339.80,417.44 L340.30,417.28 L340.80,417.11 L341.30,416.96 L341.80,416.80 L342.30,416.65 L342.80,416.50 L343.30,416.36 L343.80,416.22 L344.30,416.09 L344.80,415.95 L345.30,415.82 L345.80,415.70 L346.30,415.57 L346.80,415.45 L347.30,415.33 L347.80,415.22 L348.30,415.11 L348.80,415.00 L349.30,414.89 L349.80,414.79 L350.30,414.69 L350.80,414.59 L351.30,414.49 L351.80,414.40 L352.30,414.30 L352.80,414.21 L353.30,414.13 L353.80,414.04 L354.30,413.95 L354.80,413.87 L355.30,413.79 L355.80,413.71 L356.30,413.63 L356.80,413.55 L357.30,413.48 L357.80,413.40 L358.30,413.33 L358.80,413.26 L359.30,413.19 L359.80,413.12 L360.30,413.05 L360.80,412.98 L361.30,412.91 L361.80,412.84 L362.30,412.77 L362.80,412.71 L363.30,412.64 L363.80,412.58 L364.30,412.51 L364.80,412.45 L365.30,412.38 L365.80,412.32 L366.30,412.25 L366.80,412.19 L367.30,412.13 L367.80,412.07 L368.30,412.01 L368.80,411.95 L369.30,411.88 L369.80,411.82 L370.30,411.77 L370.80,411.71 L371.30,411.65 L371.80,411.59 L372.30,411.53 L372.80,411.47 L373.30,411.42 L373.80,411.36 L374.30,411.30 L374.80,411.25 L375.30,411.19 L375.80,411.14 L376.30,411.08 L376.80,411.03 L377.30,410.98 L377.80,410.92 L378.30,410.87 L378.80,410.82 L379.30,410.77 L379.80,410.71 L380.30,410.66 L380.80,410.61 L381.30,410.56 L381.80,410.51 L382.30,410.46 L382.80,410.41 L383.30,410.36 L383.80,410.31 L384.30,410.26 L384.80,410.22 L385.30,410.17 L385.80,410.12 L386.30,410.07 L386.80,410.03 L387.30,409.98 L387.80,409.93 L388.30,409.89 L388.80,409.84 L389.30,409.80 L389.80,409.75 L390.30,409.71 L390.80,409.66 L391.30,409.62 L391.80,409.57 L392.30,409.53 L392.80,409.49 L393.30,409.44 L393.80,409.40 L394.30,409.36 L394.80,409.32 L395.30,409.28 L395.80,409.23 L396.30,409.19 L396.80,409.15 L397.30,409.11 L397.80,409.07 L398.30,409.03 L398.80,408.99 L399.30,408.95 L399.80,408.91 L400.30,408.87 L400.80,408.83 L401.30,408.79 L401.80,408.75 L402.30,408.71 L402.80,408.67 L403.30,408.64 L403.80,408.60 L404.30,408.56 L404.80,408.52 L405.30,408.49 L405.80,408.45 L406.30,408.41 L406.80,408.37 L407.30,408.34 L407.80,408.30 L408.30,408.26 L408.80,408.23 L409.30,408.19 L409.80,408.16 L410.30,408.12 L410.80,408.08 L411.30,408.05 L411.80,408.01 L412.30,407.98 L412.80,407.94 L413.30,407.91 L413.80,407.87 L414.30,407.84 L414.80,407.80 L415.30,407.77 L415.80,407.73 L416.30,407.70 L416.80,407.66 L417.30,407.63 L417.80,407.60 L418.30,407.56 L418.80,407.53 L419.30,407.49 L419.80,407.46 L420.30,407.43 L420.80,407.39 L421.30,407.36 L421.80,407.33 L422.30,407.29 L422.80,407.26 L423.30,407.23 L423.80,407.19 L424.30,407.16 L424.80,407.13 L425.30,407.09 L425.80,407.06 L426.30,407.03 L426.80,406.99 L427.30,406.96 L427.80,406.93 L428.30,406.90 L428.80,406.86 L429.30,406.83 L429.80,406.80 L430.30,406.76 L430.80,406.73 L431.30,406.70 L431.80,406.66 L432.30,406.63 L432.80,406.60 L433.30,406.57 L433.80,406.53 L434.30,406.50 L434.80,406.47 L435.30,406.43 L435.80,406.40 L436.30,406.37 L436.80,406.33 L437.30,406.30 L437.80,406.27 L438.30,406.23 L438.80,406.20 L439.30,406.17 L439.80,406.13 L440.30,406.10 L440.80,406.06 L441.30,406.03 L441.80,406.00 L442.30,405.96 L442.80,405.93 L443.30,405.89 L443.80,405.86 L444.30,405.82 L444.80,405.79 L445.30,405.75 L445.80,405.72 L446.30,405.68 L446.80,405.65 L447.30,405.61 L447.80,405.58 L448.30,405.54 L448.80,405.51 L449.30,405.47 L449.80,405.44 L450.30,405.40 L450.80,405.36 L451.30,405.33 L451.80,405.29 L452.30,405.25 L452.80,405.22 L453.30,405.18 L453.80,405.14 L454.30,405.11 L454.80,405.07 L455.30,405.03 L455.80,404.99 L456.30,404.95 L456.80,404.92 L457.30,404.88 L457.80,404.84 L458.30,404.80 L458.80,404.76 L459.30,404.72 L459.80,404.68 L460.30,404.64 L460.80,404.60 L461.30,404.56 L461.80,404.52 L462.30,404.48 L462.80,404.44 L463.30,404.40 L463.80,404.36 L464.30,404.31 L464.80,404.27 L465.30,404.23 L465.80,404.19 L466.30,404.14 L466.80,404.10 L467.30,404.06 L467.80,404.01 L468.30,403.97 L468.80,403.93 L469.30,403.88 L469.80,403.84 L470.30,403.79 L470.80,403.75 L471.30,403.70 L471.80,403.65 L472.30,403.61 L472.80,403.56 L473.30,403.51 L473.80,403.47 L474.30,403.42 L474.80,403.37 L475.30,403.32 L475.80,403.27 L476.30,403.22 L476.80,403.17 L477.30,403.13 L477.80,403.07 L478.30,403.02 L478.80,402.97 L479.30,402.92 L479.80,402.87 L480.30,402.82 L480.80,402.77 L481.30,402.71 L481.80,402.66 L482.30,402.61 L482.80,402.55 L483.30,402.50 L483.80,402.44 L484.30,402.39 L484.80,402.33 L485.30,402.28 L485.80,402.22 L486.30,402.17 L486.80,402.11 L487.30,402.05 L487.80,401.99 L488.30,401.93 L488.80,401.88 L489.30,401.82 L489.80,401.76 L490.30,401.70 L490.80,401.64 L491.30,401.57 L491.80,401.51 L492.30,401.45 L492.80,401.39 L493.30,401.33 L493.80,401.26 L494.30,401.20 L494.80,401.13 L495.30,401.07 L495.80,401.00 L496.30,400.94 L496.80,400.87 L497.30,400.80 L497.80,400.74 L498.30,400.67 L498.80,400.60 L499.30,400.53 L499.80,400.46 L500.30,400.39 L500.80,400.32 L501.30,400.25 L501.80,400.18 L502.30,400.11 L502.80,400.03 L503.30,399.96 L503.80,399.89 L504.30,399.81 L504.80,399.74 L505.30,399.66 L505.80,399.59 L506.30,399.51 L506.80,399.43 L507.30,399.36 L507.80,399.28 L508.30,399.20" fill="none" stroke="#000" stroke-width="1.7" stroke-linejoin="round"/>
<rect x="309.00" y="433.30" width="6.00" height="6.00" fill="#000"/>
<line x1="320.40" y1="399.50" x2="320.40" y2="422.00" stroke="#000" stroke-width="1.5"/>
<line x1="318.75" y1="399.50" x2="322.05" y2="399.50" stroke="#000" stroke-width="1.5"/>
<line x1="318.75" y1="422.00" x2="322.05" y2="422.00" stroke="#000" stroke-width="1.5"/>
<rect x="317.40" y="411.10" width="6.00" height="6.00" fill="#000"/>
<line x1="329.30" y1="396.00" x2="329.30" y2="407.80" stroke="#000" stroke-width="1.5"/>
<line x1="327.65" y1="396.00" x2="330.95" y2="396.00" stroke="#000" stroke-width="1.5"/>
<line x1="327.65" y1="407.80" x2="330.95" y2="407.80" stroke="#000" stroke-width="1.5"/>
<rect x="326.30" y="398.80" width="6.00" height="6.00" fill="#000"/>
<line x1="361.40" y1="334.40" x2="361.40" y2="387.70" stroke="#000" stroke-width="1.5"/>
<line x1="359.75" y1="334.40" x2="363.05" y2="334.40" stroke="#000" stroke-width="1.5"/>
<line x1="359.75" y1="387.70" x2="363.05" y2="387.70" stroke="#000" stroke-width="1.5"/>
<rect x="358.40" y="359.60" width="6.00" height="6.00" fill="#000"/>
<line x1="410.30" y1="302.60" x2="410.30" y2="355.80" stroke="#000" stroke-width="1.5"/>
<line x1="408.65" y1="302.60" x2="411.95" y2="302.60" stroke="#000" stroke-width="1.5"/>
<line x1="408.65" y1="355.80" x2="411.95" y2="355.80" stroke="#000" stroke-width="1.5"/>
<rect x="407.30" y="326.70" width="6.00" height="6.00" fill="#000"/>
<line x1="507.80" y1="278.00" x2="507.80" y2="327.90" stroke="#000" stroke-width="1.5"/>
<line x1="506.15" y1="278.00" x2="509.45" y2="278.00" stroke="#000" stroke-width="1.5"/>
<line x1="506.15" y1="327.90" x2="509.45" y2="327.90" stroke="#000" stroke-width="1.5"/>
<rect x="504.80" y="300.20" width="6.00" height="6.00" fill="#000"/>
<line x1="320.60" y1="421.00" x2="320.60" y2="433.00" stroke="#000" stroke-width="1.5"/>
<line x1="318.95" y1="421.00" x2="322.25" y2="421.00" stroke="#000" stroke-width="1.5"/>
<line x1="318.95" y1="433.00" x2="322.25" y2="433.00" stroke="#000" stroke-width="1.5"/>
<line x1="328.90" y1="412.50" x2="328.90" y2="429.00" stroke="#000" stroke-width="1.5"/>
<line x1="327.25" y1="412.50" x2="330.55" y2="412.50" stroke="#000" stroke-width="1.5"/>
<line x1="327.25" y1="429.00" x2="330.55" y2="429.00" stroke="#000" stroke-width="1.5"/>
<line x1="361.60" y1="401.80" x2="361.60" y2="424.40" stroke="#000" stroke-width="1.5"/>
<line x1="359.95" y1="401.80" x2="363.25" y2="401.80" stroke="#000" stroke-width="1.5"/>
<line x1="359.95" y1="424.40" x2="363.25" y2="424.40" stroke="#000" stroke-width="1.5"/>
<line x1="410.20" y1="393.80" x2="410.20" y2="424.00" stroke="#000" stroke-width="1.5"/>
<line x1="408.55" y1="393.80" x2="411.85" y2="393.80" stroke="#000" stroke-width="1.5"/>
<line x1="408.55" y1="424.00" x2="411.85" y2="424.00" stroke="#000" stroke-width="1.5"/>
<line x1="508.30" y1="380.90" x2="508.30" y2="415.40" stroke="#000" stroke-width="1.5"/>
<line x1="506.65" y1="380.90" x2="509.95" y2="380.90" stroke="#000" stroke-width="1.5"/>
<line x1="506.65" y1="415.40" x2="509.95" y2="415.40" stroke="#000" stroke-width="1.5"/>
<rect x="318.15" y="424.35" width="4.90" height="4.90" fill="#fff" stroke="#000" stroke-width="1.9"/>
<rect x="326.45" y="418.25" width="4.90" height="4.90" fill="#fff" stroke="#000" stroke-width="1.9"/>
<rect x="359.15" y="410.75" width="4.90" height="4.90" fill="#fff" stroke="#000" stroke-width="1.9"/>
<rect x="407.75" y="406.75" width="4.90" height="4.90" fill="#fff" stroke="#000" stroke-width="1.9"/>
<rect x="505.85" y="396.65" width="4.90" height="4.90" fill="#fff" stroke="#000" stroke-width="1.9"/>
<rect x="317.65" y="421.85" width="3.50" height="3.50" fill="#fff" stroke="#000" stroke-width="1.5"/>
<rect x="310.65" y="434.45" width="3.10" height="3.10" fill="#fff" stroke="#000" stroke-width="1.9"/>
</svg>
</body></html>
